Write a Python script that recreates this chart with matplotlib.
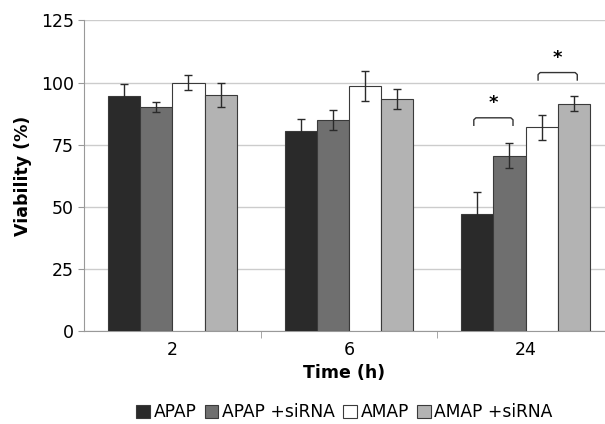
import numpy as np
import matplotlib
matplotlib.use("Agg")
import matplotlib.pyplot as plt

times = ["2", "6", "24"]
series = ["APAP", "APAP +siRNA", "AMAP", "AMAP +siRNA"]
viability = [
    [94.5, 80.5, 47.0],   # APAP
    [90.0, 85.0, 70.5],   # APAP +siRNA
    [100.0, 98.5, 82.0],  # AMAP
    [95.0, 93.5, 91.5],   # AMAP +siRNA
]
errors = [
    [5.0, 5.0, 9.0],
    [2.0, 4.0, 5.0],
    [3.0, 6.0, 5.0],
    [5.0, 4.0, 3.0],
]
colors = ["#2a2a2a", "#6f6f6f", "#ffffff", "#b3b3b3"]

# significance brackets: (time index, series a, series b, height)
brackets = [(2, 0, 1, 85.8), (2, 2, 3, 104.0)]

fig = plt.figure(figsize=(6.05, 4.24), dpi=100)
ax = fig.add_axes([0.139, 0.219, 0.861, 0.733])

x = np.arange(len(times))
w = 0.182
offsets = (np.arange(len(series)) - 1.5) * w

for i, name in enumerate(series):
    ax.bar(x + offsets[i], viability[i], w, color=colors[i], edgecolor="#3a3a3a",
           linewidth=0.8, label=name, zorder=3,
           yerr=errors[i], error_kw=dict(ecolor="#2a2a2a", elinewidth=1.0,
                                          capsize=3, capthick=1.0, zorder=4))

for t, a, b, h in brackets:
    xa = x[t] + offsets[a] - 0.02
    xb = x[t] + offsets[b] + 0.02
    r = 0.012
    ax.plot([xa, xa, xa + r, xb - r, xb, xb], [h - 3, h - 0.8, h, h, h - 0.8, h - 3],
            color="#333333", lw=1.0, zorder=5, solid_joinstyle="round")
    ax.text((xa + xb) / 2, h + 6, "*", ha="center", va="center",
            fontsize=13, fontweight="bold")

ax.set_ylim(0, 125)
ax.set_yticks([0, 25, 50, 75, 100, 125])
ax.set_xlim(-0.5, 2.45)
ax.set_xticks(x)
ax.set_xticklabels(times)
ax.set_xticks([0.5, 1.5], minor=True)
ax.tick_params(axis="x", which="major", length=0, labelsize=12.5, pad=7)
ax.tick_params(axis="x", which="minor", length=5, color="#999999")
ax.tick_params(axis="y", length=4, color="#999999", labelsize=12.5)
ax.yaxis.grid(True, color="#cccccc", linewidth=1.0, zorder=0)
ax.set_axisbelow(True)

for s in ["top", "right"]:
    ax.spines[s].set_visible(False)
for s in ["left", "bottom"]:
    ax.spines[s].set_color("#999999")

ax.set_ylabel("Viability (%)", fontsize=12.5, fontweight="bold", labelpad=6)
ax.set_xlabel("Time (h)", fontsize=12.5, fontweight="bold", labelpad=4)

ax.legend(loc="upper center", bbox_to_anchor=(0.5, -0.21), ncol=4, frameon=False,
          fontsize=12.3, handlelength=0.8, handleheight=0.8, handletextpad=0.2,
          columnspacing=0.5, borderaxespad=0)

fig.savefig("out.png", dpi=100)
